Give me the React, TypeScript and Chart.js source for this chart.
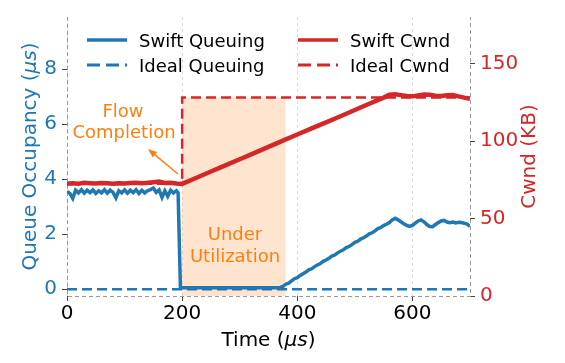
import { useEffect, useRef } from "react";
import { Chart, registerables } from "chart.js";

Chart.register(...registerables);

const BLUE = "#1f77b4";
const RED = "#d62728";
const ORANGE = "#ff7f0e";
const FONT = "'DejaVu Sans', 'Liberation Sans', sans-serif";

// Tick labels
const xTicks = [0, 200, 400, 600];
const leftTicks = [0, 2, 4, 6, 8];
const rightTicks = [0, 50, 100, 150];

// Swift Queuing (left axis, µs)
const swiftQueueTime = [
  0, 5, 10, 15, 20, 25, 30, 35, 40, 45, 50, 55, 60, 65, 70, 75, 80, 85, 90, 95,
  100, 105, 110, 115, 120, 125, 130, 135, 140, 145, 150, 155, 160, 165, 170, 175, 180, 185, 190,
  193, 197, 250, 300, 350, 365,
  370, 375, 380, 385, 390, 395, 400, 405, 410, 415, 420, 425, 430, 435, 440, 445, 450, 455, 460, 465,
  470, 475, 480, 485, 490, 495, 500, 505, 510, 515, 520, 525, 530, 535, 540, 545, 550, 555, 560, 565,
  570, 575, 580, 585, 590, 595, 600, 605, 610, 615, 620, 625, 630, 635, 640, 645, 650, 655, 660, 665,
  670, 675, 680, 685, 690, 695, 700,
];
const swiftQueueValues = [
  3.56, 3.48, 3.30, 3.60, 3.50, 3.62, 3.49, 3.60, 3.51, 3.61, 3.48, 3.58, 3.50, 3.62, 3.49, 3.60, 3.52, 3.32, 3.58, 3.50,
  3.61, 3.49, 3.60, 3.51, 3.62, 3.48, 3.60, 3.50, 3.58, 3.62, 3.68, 3.52, 3.61, 3.34, 3.58, 3.38, 3.60, 3.50, 3.58,
  3.50, 0.05, 0.05, 0.05, 0.05, 0.05,
  0.06, 0.10, 0.18, 0.22, 0.30, 0.38, 0.42, 0.50, 0.56, 0.62, 0.70, 0.74, 0.82, 0.88, 0.93, 1.01, 1.06, 1.12, 1.20, 1.24,
  1.32, 1.38, 1.43, 1.51, 1.55, 1.62, 1.70, 1.74, 1.82, 1.87, 1.93, 2.01, 2.05, 2.12, 2.20, 2.24, 2.31, 2.36, 2.42, 2.52,
  2.58, 2.52, 2.45, 2.38, 2.32, 2.28, 2.32, 2.40, 2.48, 2.52, 2.45, 2.35, 2.28, 2.27, 2.35, 2.42, 2.48, 2.50, 2.44, 2.42,
  2.44, 2.41, 2.43, 2.42, 2.40, 2.37, 2.28,
];

// Ideal Queuing (left axis)
const idealQueueTime = [0, 700];
const idealQueueValues = [0, 0];

// Swift Cwnd (right axis, KB)
const swiftCwndTime = [
  0, 10, 20, 30, 40, 50, 60, 70, 80, 90, 100, 110, 120, 130, 140, 150, 160, 170, 180, 190,
  200, 225, 250, 275, 300, 325, 350, 375, 400, 425, 450, 475, 500, 525, 550, 560,
  570, 580, 590, 600, 610, 620, 630, 640, 650, 660, 670, 680, 690, 700,
];
const swiftCwndValues = [
  72.4, 72.8, 72.5, 73.0, 72.8, 72.6, 72.9, 72.7, 72.5, 72.8, 72.6, 72.9, 73.1, 72.8, 73.0, 73.4, 73.8, 72.9, 73.1, 72.6,
  72.3, 76.3, 80.3, 84.3, 88.2, 92.2, 96.2, 100.2, 104.2, 108.1, 112.0, 116.0, 120.0, 124.0, 128.0, 129.8,
  130.2, 129.6, 129.0, 128.8, 129.4, 130.0, 129.8, 129.2, 129.0, 129.5, 129.6, 128.8, 128.0, 127.3,
];

// Ideal Cwnd (right axis)
const idealCwndTime = [0, 200, 200, 700];
const idealCwndValues = [72.5, 72.5, 128, 128];

// Under-utilization shading (right axis)
const shadeTime = [200, 380];
const shadeValues = [128, 128];

const pairs = (xs: number[], ys: number[]) => xs.map((x, i) => ({ x, y: ys[i] }));

function drawParts(ctx: CanvasRenderingContext2D, parts: { t: string; italic?: boolean }[], size: number) {
  const fonts = parts.map((p) => `${p.italic ? "italic " : ""}${size}px ${FONT}`);
  let total = 0;
  const widths = parts.map((p, i) => {
    ctx.font = fonts[i];
    const w = ctx.measureText(p.t).width;
    total += w;
    return w;
  });
  let x = -total / 2;
  ctx.textAlign = "left";
  ctx.textBaseline = "alphabetic";
  parts.forEach((p, i) => {
    ctx.font = fonts[i];
    ctx.fillText(p.t, x, 0);
    x += widths[i];
  });
}

const overlay = {
  id: "overlay",
  beforeDatasetsDraw(chart: any) {
    const { ctx, chartArea: a } = chart;
    ctx.save();
    ctx.strokeStyle = "#9a9a9a";
    ctx.lineWidth = 1;
    ctx.setLineDash([4, 3]);
    ctx.beginPath();
    ctx.moveTo(a.left + 0.5, a.top);
    ctx.lineTo(a.left + 0.5, a.bottom + 0.5);
    ctx.lineTo(a.right + 0.5, a.bottom + 0.5);
    ctx.lineTo(a.right + 0.5, a.top);
    ctx.stroke();
    ctx.restore();
  },
  afterDraw(chart: any) {
    const { ctx, chartArea: a } = chart;
    const cy = (a.top + a.bottom) / 2;
    const cx = (a.left + a.right) / 2;
    ctx.save();
    // Axis titles
    ctx.fillStyle = "#000";
    ctx.save();
    ctx.translate(cx, 346);
    drawParts(ctx, [{ t: "Time (" }, { t: "μs", italic: true }, { t: ")" }], 20);
    ctx.restore();

    ctx.fillStyle = BLUE;
    ctx.save();
    ctx.translate(36, cy);
    ctx.rotate(-Math.PI / 2);
    drawParts(ctx, [{ t: "Queue Occupancy (" }, { t: "μs", italic: true }, { t: ")" }], 20);
    ctx.restore();

    ctx.fillStyle = RED;
    ctx.save();
    ctx.translate(535, cy);
    ctx.rotate(-Math.PI / 2);
    drawParts(ctx, [{ t: "Cwnd (KB)" }], 20);
    ctx.restore();

    // Legend
    const legend = [
      { label: "Swift Queuing", color: BLUE, dash: [] as number[], w: 3.5, x: 87, y: 40 },
      { label: "Ideal Queuing", color: BLUE, dash: [13, 6], w: 3, x: 87, y: 65 },
      { label: "Swift Cwnd", color: RED, dash: [] as number[], w: 3.5, x: 298, y: 40 },
      { label: "Ideal Cwnd", color: RED, dash: [13, 6], w: 3, x: 298, y: 65 },
    ];
    legend.forEach((l) => {
      ctx.save();
      ctx.strokeStyle = l.color;
      ctx.lineWidth = l.w;
      ctx.setLineDash(l.dash);
      ctx.beginPath();
      ctx.moveTo(l.x, l.y);
      ctx.lineTo(l.x + 40, l.y);
      ctx.stroke();
      ctx.restore();
      ctx.fillStyle = "#000";
      ctx.font = `18px ${FONT}`;
      ctx.textAlign = "left";
      ctx.textBaseline = "alphabetic";
      ctx.fillText(l.label, l.x + 52, l.y + 6.5);
    });

    // Annotations
    ctx.fillStyle = ORANGE;
    ctx.font = `18px ${FONT}`;
    ctx.textAlign = "center";
    ctx.textBaseline = "alphabetic";
    ctx.fillText("Flow", 123, 117);
    ctx.fillText("Completion", 124, 138);
    ctx.fillText("Under", 235, 240);
    ctx.fillText("Utilization", 235, 262);

    // Arrow
    const x1 = 178, y1 = 174, x2 = 148, y2 = 149;
    const ang = Math.atan2(y2 - y1, x2 - x1);
    ctx.strokeStyle = ORANGE;
    ctx.fillStyle = ORANGE;
    ctx.lineWidth = 1.5;
    ctx.beginPath();
    ctx.moveTo(x1, y1);
    ctx.lineTo(x2 - Math.cos(ang) * 6, y2 - Math.sin(ang) * 6);
    ctx.stroke();
    ctx.beginPath();
    ctx.moveTo(x2, y2);
    ctx.lineTo(x2 - Math.cos(ang) * 9 + Math.sin(ang) * 3.5, y2 - Math.sin(ang) * 9 - Math.cos(ang) * 3.5);
    ctx.lineTo(x2 - Math.cos(ang) * 9 - Math.sin(ang) * 3.5, y2 - Math.sin(ang) * 9 + Math.cos(ang) * 3.5);
    ctx.closePath();
    ctx.fill();
    ctx.restore();
  },
};

export default function App() {
  const ref = useRef<HTMLCanvasElement | null>(null);
  useEffect(() => {
    if (!ref.current) return;
    Chart.defaults.font.family = FONT;
    const tickFont = { family: FONT, size: 20 };
    const chart = new Chart(ref.current, {
      type: "line",
      data: {
        datasets: [
          {
            label: "Ideal Cwnd",
            data: pairs(idealCwndTime, idealCwndValues),
            yAxisID: "y1",
            borderColor: RED,
            borderWidth: 2.5,
            borderDash: [10, 5],
            pointRadius: 0,
            fill: false,
            order: 1,
          },
          {
            label: "Swift Cwnd",
            data: pairs(swiftCwndTime, swiftCwndValues),
            yAxisID: "y1",
            borderColor: RED,
            borderWidth: 4.5,
            pointRadius: 0,
            fill: false,
            order: 2,
          },
          {
            label: "Swift Queuing",
            data: pairs(swiftQueueTime, swiftQueueValues),
            yAxisID: "y",
            borderColor: BLUE,
            borderWidth: 3.5,
            pointRadius: 0,
            fill: false,
            order: 3,
          },
          {
            label: "Ideal Queuing",
            data: pairs(idealQueueTime, idealQueueValues),
            yAxisID: "y",
            borderColor: BLUE,
            borderWidth: 2.5,
            borderDash: [10, 5],
            pointRadius: 0,
            fill: false,
            order: 4,
          },
          {
            label: "Under Utilization",
            data: pairs(shadeTime, shadeValues),
            yAxisID: "y1",
            borderWidth: 0,
            borderColor: "rgba(0,0,0,0)",
            backgroundColor: "rgba(255,127,14,0.2)",
            pointRadius: 0,
            fill: "origin",
            order: 10,
          },
        ],
      },
      options: {
        animation: false,
        responsive: false,
        layout: { padding: { top: 16, left: 0, right: 0, bottom: 0 } },
        plugins: { legend: { display: false }, tooltip: { enabled: false } },
        elements: { line: { tension: 0 }, point: { radius: 0 } },
        scales: {
          x: {
            type: "linear",
            position: "bottom",
            min: 0,
            max: 700,
            afterBuildTicks: (s: any) => {
              s.ticks = xTicks.map((v) => ({ value: v }));
            },
            afterFit: (s: any) => {
              s.height = 67;
            },
            grid: { display: true, drawOnChartArea: true, color: "#dcdcdc", lineWidth: 1, tickLength: 5, tickColor: "#444", tickWidth: 1 },
            border: { display: false, dash: [3, 3] },
            ticks: { color: "#000", font: tickFont, padding: 1, maxRotation: 0, autoSkip: false },
          },
          y: {
            type: "linear",
            position: "left",
            min: -0.25,
            max: 9.9,
            afterBuildTicks: (s: any) => {
              s.ticks = leftTicks.map((v) => ({ value: v }));
            },
            afterFit: (s: any) => {
              s.width = 67;
            },
            grid: { display: true, drawOnChartArea: false, tickLength: 5, tickColor: "#444", tickWidth: 1 },
            border: { display: false },
            ticks: { color: BLUE, font: tickFont, padding: 5, autoSkip: false },
          },
          y1: {
            type: "linear",
            position: "right",
            min: 0,
            max: 180,
            afterBuildTicks: (s: any) => {
              s.ticks = rightTicks.map((v) => ({ value: v }));
            },
            afterFit: (s: any) => {
              s.width = 95;
            },
            grid: { display: true, drawOnChartArea: false, tickLength: 5, tickColor: "#444", tickWidth: 1 },
            border: { display: false },
            ticks: { color: RED, font: tickFont, padding: 5, autoSkip: false },
          },
        },
      } as any,
      plugins: [overlay],
    });
    return () => chart.destroy();
  }, []);
  return (
    <div style={{ position: "fixed", left: 0, top: 0, width: 565, height: 363, background: "#fff" }}>
      <canvas ref={ref} width={565} height={363} style={{ width: 565, height: 363, display: "block" }} />
    </div>
  );
}
